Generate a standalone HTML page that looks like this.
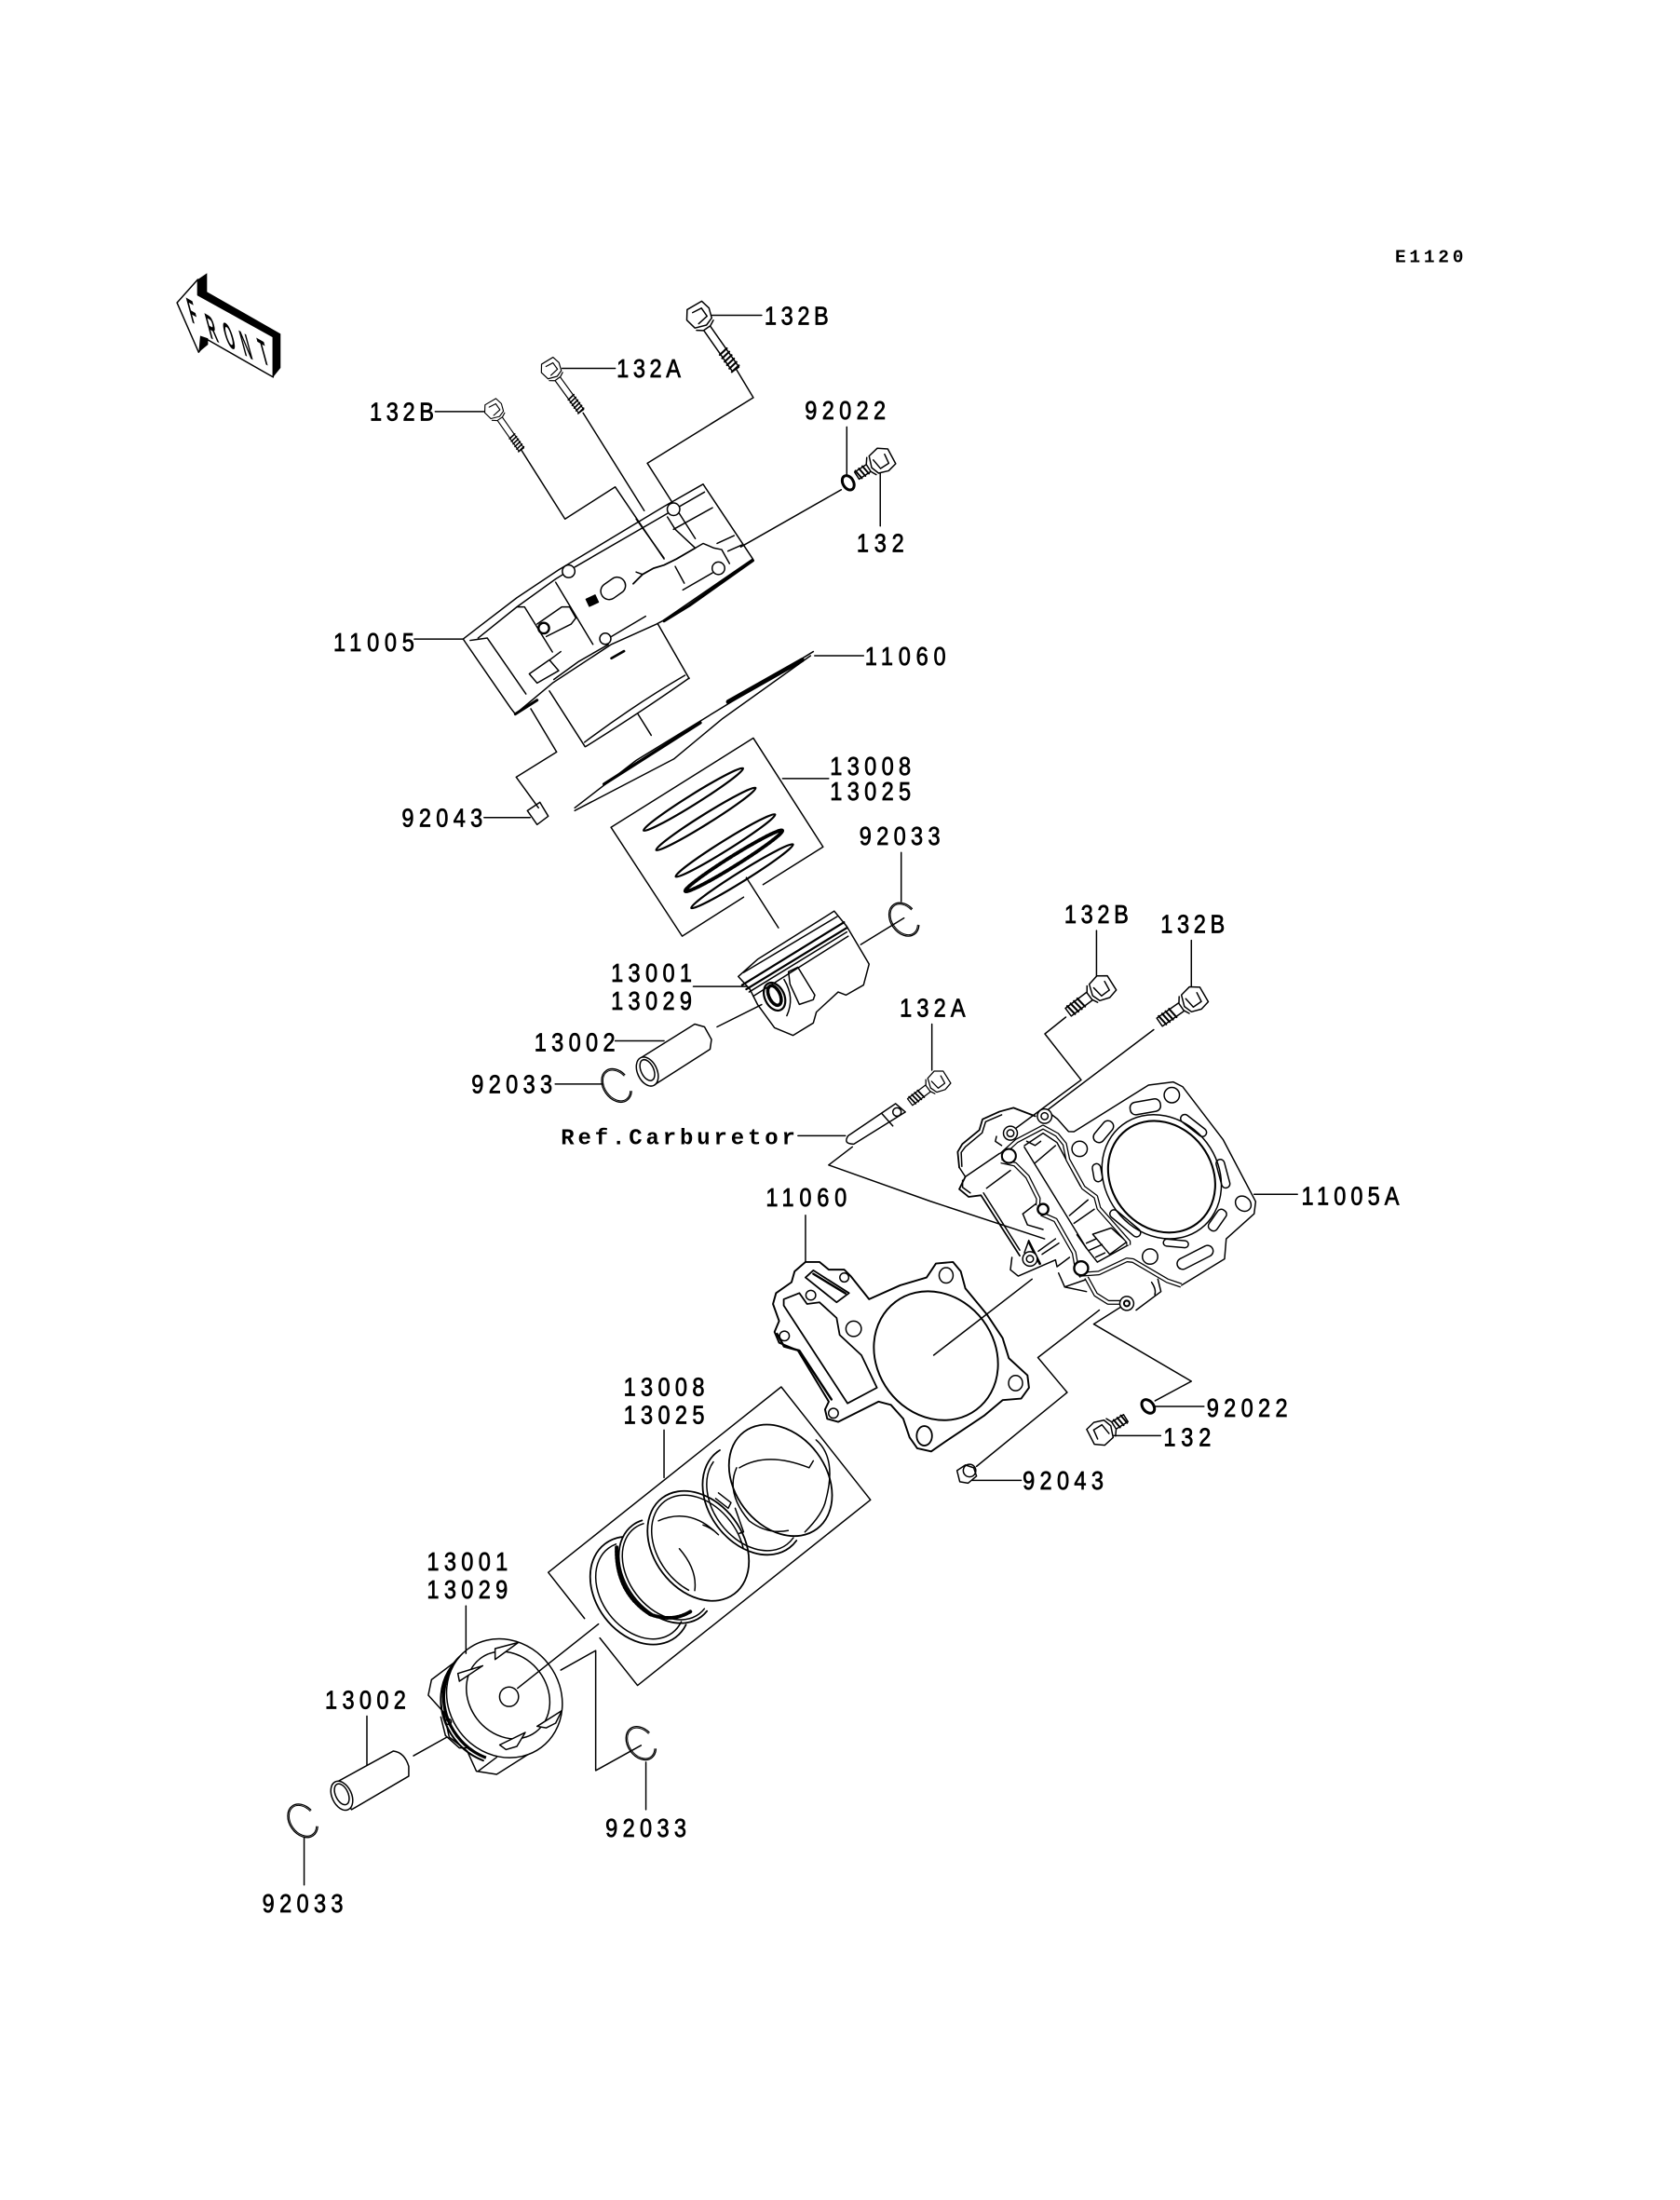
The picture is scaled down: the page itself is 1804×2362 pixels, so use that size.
<!DOCTYPE html>
<html><head><meta charset="utf-8"><style>
html,body{margin:0;padding:0;background:#fff}
svg{display:block}
text{font-family:"Liberation Sans",sans-serif;font-size:18.5px;fill:#000;stroke:#000;stroke-width:.5}
.m{font-family:"Liberation Mono",monospace;font-size:16px;font-weight:bold;stroke:none}
.f{font-size:17px;font-weight:bold;stroke:none}
.l{fill:none;stroke:#000;stroke-width:1;stroke-linejoin:round;stroke-linecap:round}
.ch{fill:none;stroke:#000;stroke-width:3.4;stroke-linejoin:round}
.cw{fill:none;stroke:#fff;stroke-width:1.7;stroke-linejoin:round}
.w{fill:#fff}
</style></head><body>
<svg xmlns="http://www.w3.org/2000/svg" width="1804" height="2362" viewBox="0 0 1204.27 1576.8">
<defs>
<g id="bL"><polygon class="w" points="-8,-8 -1,-9.5 6,-7 8,-1 5,7 -3,8.5 -9,4"/><path d="M-4,-5 L3,-5 L4,3 M-4,-5 L-5,2 M8,-7 L10,-3 L10,3 L7,7 M10,-2.8 L46,-2.8 M10,2.8 L46,2.8 M46,-2.8 L46,2.8"/><path stroke-width="1.4" d="M30,-3.4 L31,3.4 M33,-3.4 L34,3.4 M36,-3.4 L37,3.4 M39,-3.4 L40,3.4 M42,-3.4 L43,3.4 M45,-3.4 L46,3.4"/></g>
<g id="bS"><polygon class="w" points="-8,-8 -1,-9.5 6,-7 8,-1 5,7 -3,8.5 -9,4"/><path d="M-4,-5 L3,-5 L4,3 M-4,-5 L-5,2 M8,-7 L10,-3 L10,3 L7,7 M10,-3.5 L29,-3.5 M10,3.5 L29,3.5 M29,-3.5 L29,3.5"/><path stroke-width="1.4" d="M17,-4 L18,4 M20,-4 L21,4 M23,-4 L24,4 M26,-4 L27,4"/></g>
<g id="bT"><polygon class="w" points="-8,-8 -1,-9.5 6,-7 8,-1 5,7 -3,8.5 -9,4"/><path d="M-4,-5 L3,-5 L4,3 M-4,-5 L-5,2 M8,-7 L10,-3 L10,3 L7,7 M10,-3 L20,-3 M10,3 L20,3 M20,-3 L20,3"/><path stroke-width="1.3" d="M12,-3.5 L13,3.5 M15,-3.5 L16,3.5 M18,-3.5 L19,3.5"/></g>
<g id="cl"><ellipse rx="13" ry="9.5" transform="rotate(55)" pathLength="100" stroke-dasharray="81 19" stroke-dashoffset="10" stroke-width=".9"/><ellipse rx="12" ry="8.5" transform="rotate(55)" pathLength="100" stroke-dasharray="81 19" stroke-dashoffset="10" stroke-width=".7"/></g>
</defs>

<!-- FRONT arrow -->
<polygon class="l" points="126.9,217 141.8,200.3 141.8,211.4 195.8,241.4 195.8,270.3 149,243.6 142.4,252.5"/>
<polygon fill="#000" points="141.8,200.3 148.4,195.8 148.4,209.2 201.1,239.2 201.1,263.7 195.8,270.3 195.8,241.4 141.8,211.4"/>
<polygon fill="#000" points="142.4,252.5 149.1,247 149.1,242.5 143.5,240.7"/>
<text class="f" transform="matrix(.54 .31 .42 1.55 137.5 231)">F</text>
<text class="f" transform="matrix(.54 .31 .42 1.55 150.8 242.2)">R</text>
<text class="f" transform="matrix(.54 .31 .42 1.55 163 247.8)">O</text>
<text class="f" transform="matrix(.54 .31 .42 1.55 175.3 254.5)">N</text>
<text class="f" transform="matrix(.54 .31 .42 1.55 188.5 260)">T</text>

<g class="l">
<!-- TOP: bolts -->
<use href="#bL" transform="translate(501,227) rotate(55)"/>
<use href="#bL" transform="translate(395,265) rotate(54) scale(.8)"/>
<use href="#bL" transform="translate(354,294) rotate(55) scale(.75)"/>
<polyline points="510,226 546,226"/>
<polyline points="403,264 441,264"/>
<polyline points="312,295 347,295"/>
<polyline points="528,265 540,285 464,332 498.4,386"/>
<polyline points="418,296 461.8,366"/>
<polyline points="456,372 476,400"/>
<polyline points="484,406 490.5,418"/>
<polyline points="374,323 405,372 441,349 476,400.6"/>
<polyline points="607,306 607,341"/>
<ellipse cx="608" cy="346" rx="5.5" ry="3.8" transform="rotate(60 608 346)" stroke-width="2"/>
<use href="#bT" transform="translate(631,330) rotate(147)"/>
<polyline points="631,339 631,377"/>
<polyline points="603,351 531,392"/>

<!-- cylinder head 11005 -->
<polyline points="332,458 343,449.5 370.5,428.4 400.5,408.4 476,363 504,347 539.6,400.6 475,445 470.6,447.3 438.3,461.8 396,489.6 369.4,511.8 366,507.4 333.8,460.7 332,458"/>
<polyline points="342.7,457.3 370.5,435 398.3,415 412.8,406 476,369.4 505,352.7"/>
<polyline points="337,459 349.3,457.3 377,497.4"/>
<polyline points="370.5,435 376,435 396,467.3"/>
<polygon points="379.4,483 393.8,473 400.5,480.7 385,489.6"/>
<polyline points="394,473 402,467"/>
<polyline points="398.3,417.3 425,461.8"/>
<polyline points="385,447.3 402.7,435 408.3,435 412.8,442.9 409.4,447.3 391.6,456.2"/>
<circle cx="389.8" cy="450.2" r="3.8" stroke-width="1.6"/>
<rect x="430" y="415.7" width="19" height="12" rx="6" transform="rotate(-35 439.5 421.7)"/>
<rect x="421" y="428" width="7" height="5.5" fill="#000" transform="rotate(-25 424 430.6)"/>
<circle cx="407.6" cy="409.5" r="4.5" class="w" stroke="#000"/>
<circle cx="433.9" cy="457.8" r="4" class="w" stroke="#000"/>
<circle cx="515" cy="407.3" r="4.5" class="w" stroke="#000"/>
<circle cx="482.8" cy="365" r="4.5" class="w" stroke="#000"/>
<polyline points="478.4,370.5 484,379.4 498.4,392.8 504,389.5 511.8,392.8 517.3,393.9 522.9,403.9"/>
<polyline points="498.4,392.8 485,400.6 476,405 468.4,407.3 460.6,411.7 453.9,418.4" stroke-width="1.2"/>
<polyline points="456,410 460.6,411.7"/>
<polyline points="482.8,379.4 510.7,363.9"/>
<polyline points="514,389.5 526.2,383.9"/>
<polyline points="521.8,395 531.8,390.6"/>
<polyline points="489.5,422.8 510.7,410.6"/>
<polyline points="438.3,456.2 462.8,441.7"/>
<polyline points="438.3,471.8 447.3,466.7" stroke-width="1.8"/>
<polyline points="476,445 494,434 539.6,401.7" stroke-width="2.2"/>
<polyline points="397,487 415,474 436,462"/>
<polyline points="369.4,511.8 385,501.8" stroke-width="2"/>
<!-- skirt -->
<polyline points="471.6,447.3 494,486.3"/>
<polyline points="393.8,495.2 419.4,535.2"/>
<path d="M494,486 Q460,510 420,535 M491,484 Q455,505 419,532"/>
<polyline points="457.3,511.8 466.8,527"/>
<!-- dowel -->
<polyline points="380.5,508 399,539 370,557 386,579"/>
<polygon points="378,581 387,575 393,585 385,591"/>
<polyline points="347,586 380,586"/>
<polyline points="332,458 297,458"/>

<!-- gasket sliver -->
<polyline points="412,579 456,545 583,467"/>
<polyline points="412,581 483,544 518,515 581,470"/>
<polyline points="522,503 575,473" stroke-width="3.2"/>
<polyline points="433,562 502,518" stroke-width="2.2"/>
<polyline points="584,470 619,470"/>

<!-- ring box top -->
<polyline points="547,634 590,607 540,529 438,593 489,671 533,643"/>
<polyline points="535,629 558,665"/>
<polyline points="561,558 594,558"/>
<ellipse cx="497" cy="573" rx="42" ry="3.5" transform="rotate(-32 497 573)" stroke-width="1.5"/>
<ellipse cx="506" cy="587" rx="42" ry="3.5" transform="rotate(-32 506 587)" stroke-width="1.5"/>
<ellipse cx="520" cy="606" rx="42" ry="3.5" transform="rotate(-32 520 606)" stroke-width="1.5"/>
<ellipse cx="526" cy="617" rx="41" ry="3.5" transform="rotate(-32 526 617)" stroke-width="2.6" stroke-dasharray="2 1"/>
<ellipse cx="532" cy="628" rx="43" ry="3.5" transform="rotate(-32 532 628)" stroke-width="1.5"/>

<!-- piston top -->
<polygon class="w" stroke="#000" points="529.2,699.9 543,687.6 598,653 607,664 623,691 619,706 606.4,713.2 600.8,711 585.2,725.4 583,733.2 568.5,742.1 555.2,736.6 543,719.9 537.4,708.8"/>
<polyline points="532,706 605,661" stroke-width="1.5"/>
<polyline points="535,709 607,665" stroke-width="1.5"/>
<polyline points="537,711 607,668"/>
<polyline points="540,714 608,671"/>
<polyline points="533,697 600,657"/>
<ellipse cx="555.2" cy="714.3" rx="7" ry="10.5" transform="rotate(-25 555.2 714.3)" stroke-width="1.5"/>
<ellipse cx="555.2" cy="713.5" rx="4" ry="7.5" transform="rotate(-25 555.2 713.5)" stroke-width="2.4" stroke-dasharray="1.5 1"/>
<polyline points="565.2,696.5 571.9,693.2 584.1,713.2 583,716.5 573,719.9 566.3,705.4 565.2,696.5"/>
<path d="M562,702 Q570,715 564,728"/>
<polyline points="497,707 535,707"/>
<polyline points="514,736 546,720"/>
<polyline points="617,677 648,658"/>
<polyline points="646,611 646,646"/>
<use href="#cl" transform="translate(648,659)"/>
<!-- pin top -->
<polygon class="w" stroke="#000" points="458,759 498,734 505,736 510,745 509,752 470,777"/>
<ellipse cx="464" cy="768" rx="7" ry="11" transform="rotate(-25 464 768)" fill="#fff"/>
<ellipse cx="464" cy="767" rx="4.5" ry="8" transform="rotate(-25 464 767)"/>
<polyline points="441,746 476,746"/>
<polyline points="398,777 432,777"/>
<use href="#cl" transform="translate(442,778)"/>

<!-- 132A carb -->
<polyline points="668,734 668,767"/>
<use href="#bS" transform="translate(672,775) rotate(143) scale(.85)"/>
<path d="M608,814 L642,791 L649,797 L612,820 Q604,820 608,814 Z"/>
<polyline points="632,798 640,807"/>
<circle cx="643" cy="797" r="3"/>
<polyline points="572,814 606,814"/>
<polyline points="611,822 594,835 667,861 748.8,887.9"/>

<!-- 132B mid -->
<polyline points="786,667 786,701"/>
<polyline points="854,674 854,709"/>
<use href="#bS" transform="translate(789,708) rotate(143)"/>
<use href="#bS" transform="translate(855,716) rotate(145)"/>
<polyline points="764,729 749,741 775,774 725,811"/>
<polyline points="827,738 749,797"/>

<!-- cylinder 11005A -->
<polyline points="748.8,795 758,802 766,811 769.9,811.1 823.3,777.7 841.1,775.5 847.8,778.9 876.7,816.7 900.1,861.2 899,870 879,887.9 877.8,902.3 846.7,921.3 836.7,917.9 812.2,903.5 807.7,902.3 785.5,913.5"/>
<ellipse cx="832.7" cy="843.4" rx="46.6" ry="40.5" transform="rotate(53 832.7 843.4)"/>
<ellipse cx="832.7" cy="843.4" rx="42" ry="36.2" transform="rotate(53 832.7 843.4)" stroke-width="1.4"/>
<rect x="810" y="788.8" width="22" height="9" rx="4" transform="rotate(-10 821 793.3)"/>
<rect x="844.6" y="803.7" width="22" height="6" rx="3" transform="rotate(38 855.6 806.7)"/>
<rect x="866.2" y="838.2" width="21" height="6" rx="3" transform="rotate(75 876.7 841.2)"/>
<rect x="864.2" y="871" width="17" height="7" rx="3" transform="rotate(-55 872.7 874.5)"/>
<rect x="833.9" y="888.7" width="18" height="5" rx="2.5" transform="rotate(5 842.9 891.2)"/>
<rect x="842.7" y="897.2" width="28" height="8" rx="4" transform="rotate(-27 856.7 901.2)"/>
<rect x="793.1" y="873.8" width="27" height="6" rx="3" transform="rotate(40 806.6 876.8)"/>
<rect x="780.1" y="837.5" width="13" height="6" rx="3" transform="rotate(80 786.6 840.5)"/>
<rect x="782" y="807.1" width="18" height="8" rx="4" transform="rotate(-50 791 811.1)"/>
<circle cx="840" cy="784.9" r="5.5"/>
<circle cx="773.9" cy="823.4" r="5.5"/>
<ellipse cx="891.2" cy="862.7" rx="6" ry="5"  transform="rotate(40 891.2 862.7)"/>
<circle cx="824.4" cy="900.6" r="5.5"/>
<polyline points="899,856 930,856"/>
<!-- body behind -->
<polyline points="687.6,836.7 686.5,825.6 689.8,820 702,810 704.3,802.2 716.5,796.7 726.5,794 742.1,800" stroke-width="1.2"/>
<polyline points="689.5,836 689,826 692,822 704,812 706.5,804 718,799"/>
<polyline points="687.6,836.7 692,843.4 716.5,826.7"/>
<polyline points="692,843.4 687.6,852.3 694.3,857.8 703.2,856.7 731,900" stroke-width="1.2"/>
<polyline points="690,846 690,851 695.5,855"/>
<polyline points="705,855 731,896"/>
<polyline points="725.4,901.2 724.3,910.1 729.9,914.6 756.6,903 757.7,907.9 766.6,901.2"/>
<polyline points="714.3,814.5 713.5,818 718,821"/>
<polyline points="733.2,870 736.5,877.9 747.7,881.2"/>
<polyline points="733.2,870 743.2,862.3"/>
<polyline points="737.5,890 745.4,905.7" stroke-width="1.8"/>
<polyline points="737.5,889 734.3,897.9"/>
<polyline points="744.3,896.8 756.6,887.9"/>
<polyline points="747,899 759,891"/>
<polyline points="758.8,912.4 763.2,922.4 778.8,925.7"/>
<polyline points="763.2,922.4 778.8,917"/>
<polyline points="707.2,851.6 724.3,838.9"/>
<polyline points="742.1,833.4 756.6,821.1"/>
<polyline points="766.6,871.2 779.9,860"/>
<polyline points="769.9,876.8 784.4,866.7"/>
<polygon points="783.3,884.6 796.6,880.1 807.7,890.1 795.5,899"/>
<polyline points="772,885 778.8,894.6"/>
<polyline points="778.8,891 785.5,888"/>
<polyline points="781,896 790,892"/>
<polyline points="785.5,901 792,898"/>
<polyline points="734.3,822.2 778.8,894.6 786.6,904.6 808.9,892.3"/>
<polyline points="734.3,821.1 747.7,812.2 757.7,818.9 774.4,850"/>
<polyline points="736,818 742,821 746,818"/>
<polyline points="814.4,939 832.2,925.7 830,916.8"/>
<path d="M825.5,919 Q829,924 827.8,928"/>
</g>
<polyline class="ch" points="717.6,827.8 728.7,817.8 747.7,807.8 757.7,813.3 763.2,820 765.5,831.1 776.6,851.2 785.5,857.8 787.7,866 808.9,890 808.9,892.3"/>
<polyline class="cw" points="717.6,827.8 728.7,817.8 747.7,807.8 757.7,813.3 763.2,820 765.5,831.1 776.6,851.2 785.5,857.8 787.7,866 808.9,890 808.9,892.3"/>
<polyline class="ch" points="717.6,832.3 727.6,834.5 736.5,843.4 744.3,859 744,864"/>
<polyline class="cw" points="717.6,832.3 727.6,834.5 736.5,843.4 744.3,859 744,864"/>
<polyline class="ch" points="746.5,870 756.6,874.5 769.9,897.9 771.7,907.9 775.5,915"/>
<polyline class="cw" points="746.5,870 756.6,874.5 769.9,897.9 771.7,907.9 775.5,915"/>
<polyline class="ch" points="773.2,913.5 787.7,912.4 807.7,903 812.2,903.5 836.7,917.9 846.7,921.3"/>
<polyline class="cw" points="773.2,913.5 787.7,912.4 807.7,903 812.2,903.5 836.7,917.9 846.7,921.3"/>
<polyline class="ch" points="778.8,915.7 785.5,927.9 794.4,933.5 804.4,933.5"/>
<polyline class="cw" points="778.8,915.7 785.5,927.9 794.4,933.5 804.4,933.5"/>
<g class="l">
<circle cx="724.3" cy="812.2" r="5" class="w" stroke="#000"/><circle cx="724.3" cy="812.2" r="2.5"/>
<circle cx="748.8" cy="800" r="5.2" class="w" stroke="#000"/><circle cx="748.8" cy="800" r="2.5"/>
<circle cx="723.2" cy="828.5" r="5" class="w" stroke="#000" stroke-width="1.4"/>
<circle cx="747.7" cy="866.7" r="3.8" class="w" stroke="#000" stroke-width="1.6"/>
<circle cx="738.3" cy="902.3" r="5.2" class="w" stroke="#000"/><circle cx="738.3" cy="902.3" r="2.5"/>
<circle cx="775" cy="909" r="5" class="w" stroke="#000" stroke-width="1.6"/>
<circle cx="807.7" cy="934.2" r="5" class="w" stroke="#000"/><circle cx="807.7" cy="934.2" r="2" stroke-width="1.4"/>

<!-- leaders lower right -->
<polyline points="803,937 784,949 854,990 828,1004"/>
<ellipse cx="823" cy="1008" rx="5.5" ry="3.8" transform="rotate(50 823 1008)" stroke-width="2"/>
<polyline points="828,1008 863,1008"/>
<use href="#bT" transform="translate(790,1027) rotate(-32)"/>
<polyline points="798,1029 832,1029"/>
<polyline points="788,939 744,973 765,998 700,1051"/>
<path d="M686,1054 L692,1050 L698,1052 L700,1058 L694,1063 L688,1062 Z"/>
<circle cx="695" cy="1054" r="4.5"/>
<polyline points="697,1061 732,1061"/>

<!-- gasket 11060 big -->
<polygon stroke-width="1.3" points="577.4,904.5 587.4,904.5 594.1,910 605.2,910 609.7,914.5 623,931.2 645.3,921.2 664.2,915.6 670.9,905.6 683.1,904.5 688.7,911.2 692,923.4 707.6,942.3 718.7,959 723.2,973.5 736.5,985.7 737.6,994.6 732,1002.4 718.7,1003.5 705.4,1014.7 678.7,1032.5 667.5,1040.3 657.5,1038 652,1030.2 647.5,1016.9 638.6,1006.9 629.7,1004.6 600.8,1019.1 593,1016.9 591.4,1010.2 594.1,1004.6 571.9,967.9 558.5,962.4 555.2,954.6 558.5,946.8 554.1,934.6 556.3,926.8 567.4,919 569.6,911.2"/>
<polyline points="557,956 562,965 573,968 596,1003" stroke-width="1.6"/>
<ellipse cx="670.9" cy="971.7" rx="48.3" ry="42.2" transform="rotate(53 670.9 971.7)" stroke-width="1.3"/>
<ellipse cx="678.2" cy="914.1" rx="5" ry="5.5"/>
<ellipse cx="728" cy="991.3" rx="5" ry="5.5"/>
<ellipse cx="662.6" cy="1029.1" rx="5.5" ry="7" stroke-width="1.2"/>
<circle cx="597.4" cy="1012.9" r="3.5"/>
<circle cx="611.9" cy="952.4" r="5.5"/>
<circle cx="605.2" cy="915.6" r="3.2"/>
<circle cx="581.2" cy="928.3" r="3.5"/>
<circle cx="562.3" cy="957.5" r="3.5"/>
<polygon points="577.4,915.6 583,910.5 608.6,926.8 599.7,933.4" stroke-width="1.2"/>
<polyline points="583,913 606,927" stroke-width="1.6"/>
<polygon stroke-width="1.2" points="561.8,931.2 573,926.8 578.5,934.6 587.4,933.4 599.7,944.6 601.9,956.8 617.5,971.3 628.6,994.6 607.5,1005.8 561.8,935.7"/>
<polyline points="577.4,871 577.4,904"/>
<polyline points="739.8,916.8 669.3,971.3"/>

<!-- ring box lower -->
<polyline points="419,1160 393,1127 560,994 624,1075 457,1208 430,1174"/>
<polyline points="476,1025 476,1059"/>
<ellipse cx="459" cy="1140" rx="42" ry="32" transform="rotate(53 459 1140)" pathLength="100" stroke-dasharray="61 39" stroke-dashoffset="5" stroke-width="1.2"/>
<ellipse cx="459" cy="1140" rx="38" ry="28" transform="rotate(53 459 1140)" pathLength="100" stroke-dasharray="58 42" stroke-dashoffset="5"/>
<ellipse cx="478" cy="1126" rx="41" ry="30" transform="rotate(53 478 1126)" pathLength="100" stroke-dasharray="56 44" stroke-dashoffset="2.5" stroke-width="1.2"/>
<ellipse cx="478" cy="1126" rx="38.5" ry="27.5" transform="rotate(53 478 1126)" pathLength="100" stroke-dasharray="56 44" stroke-dashoffset="2.5"/>
<path d="M442,1109 Q441,1141 466,1157" stroke-width="2.6" stroke-dasharray="1.2 1.2"/>
<path d="M466,1157 Q482,1163 495,1155" stroke-width="2.6" stroke-dasharray="1.2 1.2"/>
<ellipse cx="500.5" cy="1108" rx="43" ry="32" transform="rotate(53 500.5 1108)" stroke-width="1.2"/>
<ellipse cx="500.5" cy="1108" rx="40" ry="29" transform="rotate(53 500.5 1108)" stroke-width="1" pathLength="100" stroke-dasharray="70 30" stroke-dashoffset="-15"/>
<path d="M472,1090 Q495,1080 515,1100 Q510,1095 504,1093 M487,1110 Q500,1125 498,1140"/>
<ellipse cx="540" cy="1075" rx="43" ry="32" transform="rotate(53 540 1075)" pathLength="100" stroke-dasharray="54 46" stroke-dashoffset="3" stroke-width="1.2"/>
<ellipse cx="540" cy="1075" rx="40" ry="29" transform="rotate(53 540 1075)" pathLength="100" stroke-dasharray="50 50" stroke-dashoffset="3"/>
<path d="M515,1070 L524,1077 L522,1081 L513,1074 M527,1081 L533,1098 L530,1099"/>
<ellipse cx="559.5" cy="1061" rx="43.5" ry="32.7" transform="rotate(53 559.5 1061)" stroke-width="1.2"/>
<path d="M530,1052 Q550,1040 580,1052 L583,1047 M585,1032 Q600,1045 592,1075 Q590,1085 577,1098 M528,1052 Q520,1070 537,1090 Q550,1100 565,1097"/>

<!-- piston lower -->
<polygon class="w" stroke="#000" points="327,1190.5 309.3,1203.9 307,1215 318,1227.2 322,1245 334.9,1255 341.5,1269.5 356,1271.7 380.5,1256.2 395,1245"/>
<polyline points="316,1230.6 319.3,1243.9 329.3,1252.8 336,1252.8"/>
<circle cx="321.5" cy="1234" r="2"/>
<ellipse cx="359.5" cy="1220" rx="44" ry="40" transform="rotate(53 359.5 1220)" pathLength="100" stroke-dasharray="50 50" stroke-dashoffset="-15" stroke-width="2.2" stroke-linecap="butt"/>
<ellipse cx="357.5" cy="1222" rx="44" ry="40" transform="rotate(53 357.5 1222)" pathLength="100" stroke-dasharray="50 50" stroke-dashoffset="-15" stroke-width="1.4"/>
<ellipse cx="361.6" cy="1217.2" rx="44" ry="40" transform="rotate(53 361.6 1217.2)" class="w" stroke="#000"/>
<ellipse cx="364.2" cy="1215" rx="33" ry="28" transform="rotate(53 364.2 1215)"/>
<ellipse cx="364.9" cy="1216.1" rx="6.8" ry="7" />
<polygon class="w" stroke="#000" points="354.9,1181.6 371.6,1177.2 354.9,1189.4"/>
<polygon class="w" stroke="#000" points="328.2,1199.4 346,1193.9 329.3,1205"/>
<polygon class="w" stroke="#000" points="385,1237.3 402.7,1226.1 398.3,1235 391.6,1238.4"/>
<polygon class="w" stroke="#000" points="358.2,1250.6 376.5,1241.7 370.5,1251.7 362.7,1254"/>
<polyline points="334,1151 334,1185"/>
<polyline points="371,1210 429,1164"/>
<polyline points="402,1197 427,1183 427,1269 459.5,1251"/>
<polyline points="463,1263 463,1297"/>
<use href="#cl" transform="translate(459.5,1249.4)"/>
<polyline points="342.7,1269.5 356,1259.5"/>

<!-- pin lower -->
<polyline points="263,1230 263,1265"/>
<path class="w" d="M240,1278 L282,1255 Q290,1256 293,1266 L293,1273 L252,1297 Z"/>
<ellipse cx="245" cy="1287" rx="7" ry="11" transform="rotate(-25 245 1287)" class="w" stroke="#000"/>
<ellipse cx="245" cy="1286" rx="4.5" ry="8" transform="rotate(-25 245 1286)"/>
<polyline points="296.4,1258.4 320.4,1245"/>
<use href="#cl" transform="translate(217,1305)"/>
<polyline points="218,1317 218,1351"/>
</g>

<!-- labels -->
<text x="1000" y="188" class="m" style="font-size:13px" textLength="49">E1120</text>
<text x="402" y="820" class="m" textLength="168">Ref.Carburetor</text>
<g transform="translate(0,.5) scale(.85,1)">
<text x="644.7" y="232" textLength="54.1">132B</text>
<text x="520" y="270" textLength="54.1">132A</text>
<text x="311.8" y="301" textLength="54.1">132B</text>
<text x="678.8" y="300" textLength="68.2">92022</text>
<text x="722.4" y="395" textLength="40">132</text>
<text x="281.2" y="466" textLength="68.2">11005</text>
<text x="729.4" y="476" textLength="68.2">11060</text>
<text x="700" y="555" textLength="68.2">13008</text>
<text x="700" y="573" textLength="68.2">13025</text>
<text x="338.8" y="592" textLength="68.2">92043</text>
<text x="724.7" y="605" textLength="68.2">92033</text>
<text x="515.3" y="703" textLength="68.2">13001</text>
<text x="515.3" y="723" textLength="68.2">13029</text>
<text x="897.6" y="661" textLength="54.1">132B</text>
<text x="978.8" y="668" textLength="54.1">132B</text>
<text x="758.8" y="728" textLength="55.3">132A</text>
<text x="450.6" y="753" textLength="68.2">13002</text>
<text x="397.6" y="783" textLength="68.2">92033</text>
<text x="645.9" y="864" textLength="68.2">11060</text>
<text x="1097.6" y="863" textLength="82.4">11005A</text>
<text x="525.9" y="1000" textLength="68.2">13008</text>
<text x="525.9" y="1020" textLength="68.2">13025</text>
<text x="1017.6" y="1015" textLength="68.2">92022</text>
<text x="981.2" y="1036" textLength="40">132</text>
<text x="862.4" y="1067" textLength="68.2">92043</text>
<text x="360" y="1125" textLength="68.2">13001</text>
<text x="360" y="1145" textLength="68.2">13029</text>
<text x="274.1" y="1224" textLength="68.2">13002</text>
<text x="510.6" y="1316" textLength="68.2">92033</text>
<text x="221.2" y="1370" textLength="68.2">92033</text>
</g>
</svg>
</body></html>
